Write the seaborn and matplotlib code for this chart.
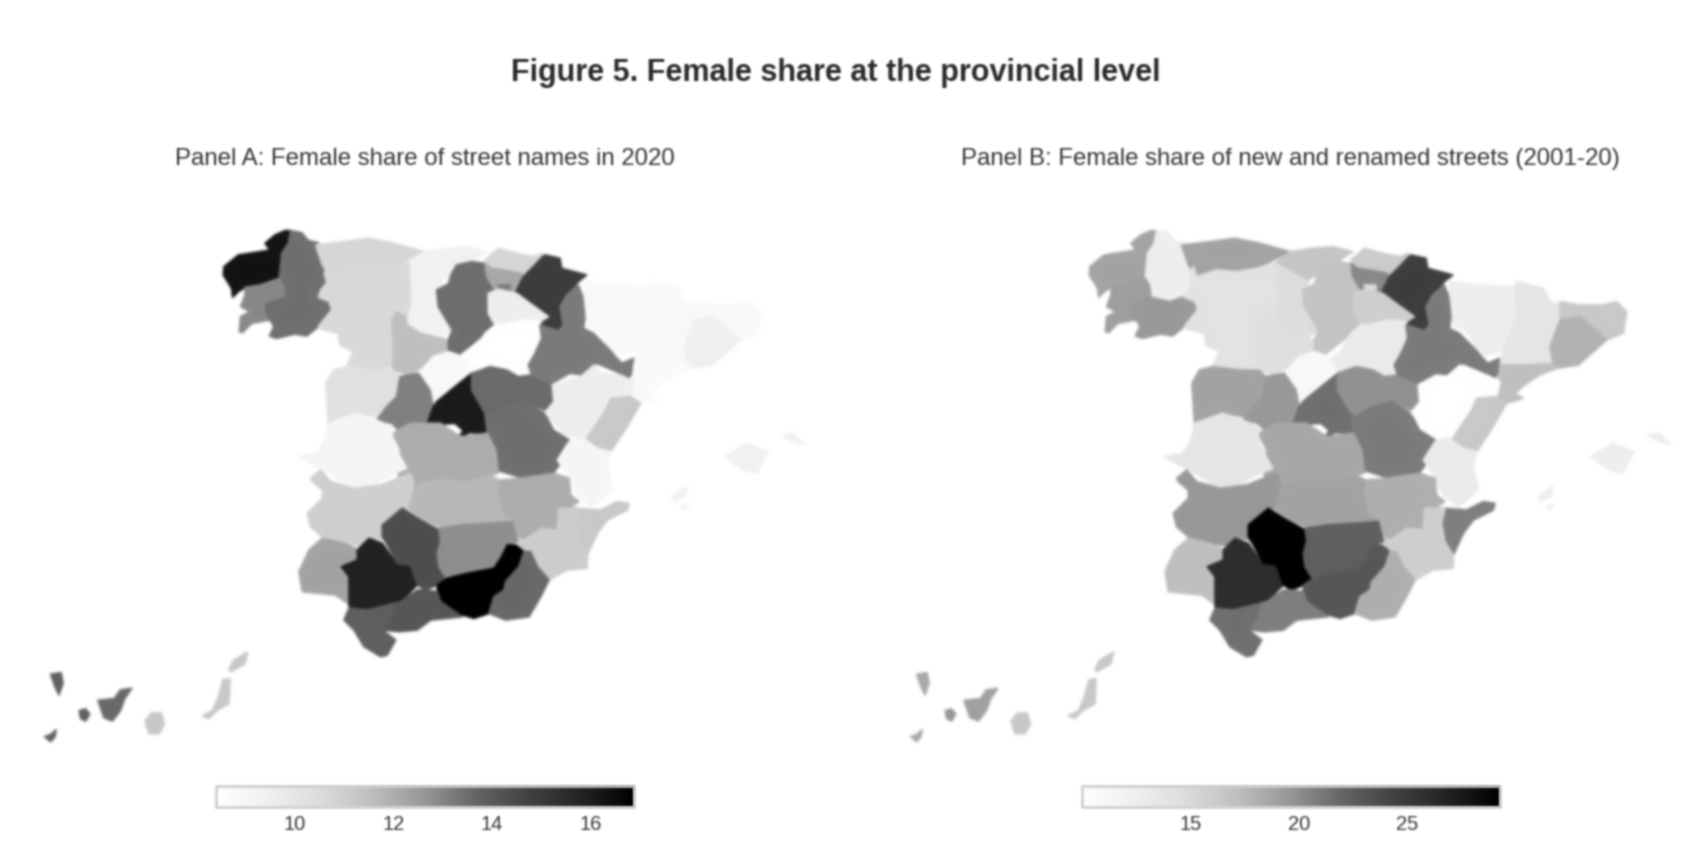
import matplotlib
matplotlib.use("Agg")
import matplotlib.pyplot as plt
from matplotlib.collections import PolyCollection
from matplotlib.colors import Normalize
import numpy as np
import seaborn as sns

sns.set_theme(style="white")
plt.rcParams["font.family"] = ["Liberation Sans", "DejaVu Sans"]

FIGURE_TITLE = "Figure 5. Female share at the provincial level"
PANEL_TITLES = ["Panel A: Female share of street names in 2020",
                "Panel B: Female share of new and renamed streets (2001-20)"]
TICKS_A = [10, 12, 14, 16]
TICKS_B = [15, 20, 25]
RANGE_A = (8.41, 16.88)
RANGE_B = (10.02, 29.25)

PROVINCES = ["Coruna", "Lugo", "Pontevedra", "Ourense", "Asturias", "Leon", "Zamora", "Palencia",
             "Valladolid", "Cantabria", "Burgos", "Bizkaia", "Gipuzkoa", "Alava", "Trevino", "Navarra",
             "Rioja", "Soria", "Segovia", "Salamanca", "Avila", "Madrid", "Guadalajara", "Cuenca",
             "Zaragoza", "Huesca", "Lleida", "Girona", "Barcelona", "Tarragona", "Teruel", "Castellon",
             "Valencia", "Alicante", "Murcia", "Albacete", "CiudadReal", "Toledo", "Caceres", "Badajoz",
             "Huelva", "Sevilla", "Cordoba", "Jaen", "Granada", "Almeria", "Malaga", "Cadiz",
             "Mallorca", "Menorca", "Ibiza", "Formentera",
             "LaPalma", "Hierro", "Gomera", "Tenerife", "GranCanaria", "Fuerteventura", "Lanzarote"]

SHARE_2020 = [16.3, 13.45, 12.94, 13.45, 10.7, 10.6, 10.6, 9.25,
              11.54, 9.25, 13.5, 10.7, 10.7, 12.14, 13.2, 14.93,
              9.55, 8.45, 8.75, 10.2, 13.1, 16.03, 13.55, 13.45,
              13.24, 8.75, 8.75, 8.75, 9.47, 8.7, 9.55, 11.2,
              8.95, 11.2, 11.04, 12.0, 11.75, 12.0, 9.1, 10.95,
              12.26, 15.86, 14.34, 12.8, 16.88, 13.58, 14.08, 13.83,
              9.34, 9.34, 9.34, 9.34,
              13.83, 13.83, 13.83, 13.58, 11.2, 11.2, 11.2]

SHARE_NEW = [18.77, 12.62, 19.06, 19.35, 18.77, 14.06, 14.06, 14.63,
             14.44, 16.56, 16.75, 16.17, 16.17, 20.3, 14.73, 24.63,
             15.79, 12.9, 10.8, 18.77, 19.44, 21.46, 19.83, 20.9,
             20.9, 12.62, 13.67, 16.37, 17.9, 17.1, 10.02, 16.37,
             12.9, 20.7, 15.79, 18.1, 18.77, 18.48, 13.5, 19.44,
             17.1, 26.0, 29.25, 22.3, 22.9, 18.1, 20.7, 21.46,
             12.6, 12.6, 12.6, 12.6,
             18.5, 18.5, 19.44, 19.0, 16.37, 16.37, 16.37]


def shift(points, du, dv):
    return [(u + du, v + dv) for u, v in points]


# Province outlines (map units)
OUTLINES = {
    "Coruna": [(345,62),(362,62),(355,100),(335,130),(328,205),(270,225),(225,232),(205,245),(188,262),(185,235),(160,195),(162,170),(205,135),(270,125),(300,120),(285,100),(315,75)],
    "Lugo": [(362,62),(395,68),(415,92),(445,98),(438,125),(460,155),(472,170),(462,190),(470,215),(450,235),(440,262),(400,275),(345,262),(340,225),(328,205),(335,130),(355,100)],
    "Pontevedra": [(328,205),(340,225),(345,262),(290,280),(300,330),(245,340),(218,368),(208,365),(212,320),(240,305),(212,290),(225,255),(225,232),(270,225)],
    "Ourense": [(345,262),(400,275),(440,262),(478,275),(485,300),(460,325),(445,350),(410,378),(375,372),(320,385),(298,378),(312,350),(300,330),(285,300),(290,280)],
    "Asturias": [(437,105),(522,95),(597,85),(672,100),(762,125),(712,150),(662,175),(602,185),(542,180),(482,200),(457,165)],
    "Leon": [(482,200),(542,180),(602,185),(662,175),(722,155),(722,180),(727,270),(712,345),(660,340),(560,340),(480,340),(460,330),(485,300),(478,275),(445,262),(470,215),(462,190),(472,170)],
    "Zamora": [(460,330),(480,340),(560,340),(660,340),(670,400),(668,470),(610,480),(530,470),(550,425),(510,405),(505,370),(455,358),(445,350)],
    "Palencia": [(722,155),(817,210),(807,290),(847,360),(812,385),(752,370),(712,345),(727,270),(722,180)],
    "Valladolid": [(665,330),(680,305),(705,320),(712,345),(752,370),(812,385),(835,390),(835,425),(790,440),(745,480),(715,495),(668,480),(670,400)],
    "Cantabria": [(762,125),(830,115),(890,110),(950,125),(905,155),(860,165),(840,195),(817,210),(722,155)],
    "Burgos": [(860,165),(905,155),(945,160),(950,200),(975,240),(955,260),(955,310),(975,345),(945,370),(910,400),(865,435),(835,420),(835,390),(847,360),(805,290),(800,240),(835,222),(845,190)],
    "Bizkaia": [(945,150),(985,115),(1040,130),(1055,190),(1000,180),(965,175)],
    "Gipuzkoa": [(1040,130),(1090,140),(1118,130),(1095,165),(1060,200),(1055,190)],
    "Alava": [(945,160),(965,175),(1000,180),(1055,190),(1055,215),(1040,250),(1000,235),(975,240),(950,200)],
    "Trevino": [(985,225),(1020,225),(1020,240),(990,240)],
    "Navarra": [(1125,135),(1170,145),(1175,175),(1250,195),(1225,215),(1195,250),(1170,290),(1180,345),(1165,362),(1110,345),(1135,320),(1080,280),(1035,250),(1060,200),(1095,165),(1118,140)],
    "Rioja": [(955,250),(985,238),(1040,250),(1080,280),(1135,320),(1110,335),(1060,330),(1000,345),(975,345),(955,310)],
    "Soria": [(975,345),(1000,345),(1060,330),(1110,335),(1115,385),(1095,430),(1075,465),(1085,495),(1045,500),(1010,480),(960,470),(905,490),(880,450),(910,430),(945,370)],
    "Segovia": [(835,425),(865,435),(880,450),(905,490),(855,530),(800,575),(780,540),(745,490),(790,440)],
    "Salamanca": [(468,520),(490,480),(530,470),(610,480),(668,480),(690,500),(680,560),(650,610),(620,620),(560,610),(475,640)],
    "Avila": [(690,500),(715,495),(745,490),(780,540),(790,590),(770,640),(690,665),(665,640),(620,630),(650,590),(680,560)],
    "Madrid": [(905,490),(905,540),(945,610),(952,670),(895,668),(875,690),(855,695),(880,662),(855,640),(770,645),(790,590),(800,575),(855,530)],
    "Guadalajara": [(905,490),(960,470),(1010,480),(1045,500),(1085,495),(1145,520),(1150,570),(1125,600),(1070,575),(1010,590),(960,620),(945,610),(905,540)],
    "Cuenca": [(945,610),(960,620),(1010,590),(1070,575),(1125,610),(1150,660),(1198,690),(1185,740),(1150,790),(1060,805),(980,780),(975,720),(952,670)],
    "Zaragoza": [(1190,255),(1225,225),(1250,290),(1240,355),(1270,370),(1320,420),(1355,460),(1390,445),(1400,475),(1375,505),(1340,485),(1280,460),(1240,495),(1200,490),(1145,520),(1085,495),(1075,465),(1095,430),(1115,385),(1110,345),(1165,362),(1180,345),(1170,290)],
    "Huesca": shift([(330,95),(420,105),(525,110),(530,200),(490,300),(430,320),(375,240),(340,225),(330,130)], 912, 120),
    "Lleida": shift([(530,95),(610,115),(630,155),(660,165),(660,210),(630,290),(640,340),(560,345),(480,345),(490,300),(530,200),(525,110)], 912, 120),
    "Girona": shift([(660,155),(720,165),(790,165),(830,155),(860,185),(850,250),(800,270),(750,225),(720,200),(660,210)], 912, 120),
    "Barcelona": shift([(660,210),(720,200),(750,225),(800,270),(715,345),(650,355),(640,340),(630,290)], 912, 120),
    "Tarragona": shift([(480,345),(560,345),(640,340),(650,355),(600,375),(560,400),(525,430),(550,445),(500,460),(470,440),(475,390)], 912, 120),
    "Teruel": shift([(235,405),(320,380),(360,345),(380,370),(440,375),(480,395),(470,440),(410,450),(395,480),(340,570),(320,565),(270,550),(215,490),(240,460)], 912, 120),
    "Castellon": shift([(410,445),(470,440),(500,460),(450,545),(410,605),(370,595),(335,570),(395,480)], 912, 120),
    "Valencia": shift([(320,565),(335,570),(370,595),(410,605),(400,650),(415,720),(355,770),(310,735),(275,665),(250,630),(285,575)], 912, 120),
    "Alicante": [(1227,895),(1292,900),(1342,875),(1377,880),(1372,900),(1312,930),(1282,970),(1252,1035),(1227,995),(1217,940)],
    "Murcia": shift([(910,110),(950,110),(975,115),(965,160),(975,215),(1000,255),(1000,295),(940,300),(885,330),(850,290),(830,245),(795,235),(790,200),(860,170),(905,175)], 252, 780),
    "Albacete": shift([(735,30),(800,25),(900,10),(945,25),(950,75),(975,95),(950,110),(910,110),(905,175),(860,170),(810,205),(780,195),(775,155),(745,130),(730,70)], 252, 780),
    "CiudadReal": [(712,840),(752,810),(852,805),(952,790),(987,810),(982,850),(997,910),(1027,935),(952,940),(872,945),(807,950),(762,930),(712,895),(682,905)],
    "Toledo": [(667,670),(722,640),(812,640),(872,680),(952,670),(977,720),(985,790),(952,795),(890,810),(812,805),(752,815),(712,840),(682,830),(692,720)],
    "Caceres": [(475,640),(560,610),(620,630),(665,650),(670,700),(685,730),(710,775),(650,800),(600,830),(540,830),(480,790),(440,770),(385,740),(440,730),(465,690)],
    "Badajoz": shift([(170,25),(200,0),(230,35),(300,55),(380,45),(430,25),(470,10),(480,40),(460,115),(430,125),(385,165),(395,210),(360,205),(340,230),(270,220),(210,205),(170,170),(160,130),(205,85),(205,60),(175,35)], 252, 780),
    "Huelva": shift([(205,205),(270,220),(315,240),(310,270),(265,290),(285,320),(280,400),(245,375),(145,365),(135,305),(165,240)], 252, 780),
    "Sevilla": shift([(310,240),(345,205),(385,220),(420,270),(440,285),(470,285),(490,345),(440,395),(340,420),(285,410),(285,320),(262,290),(310,270)], 252, 780),
    "Cordoba": shift([(385,165),(445,115),(500,150),(555,180),(560,215),(550,250),(555,290),(580,325),(550,345),(515,360),(490,345),(470,285),(430,280),(400,225),(385,200)], 252, 780),
    "Jaen": shift([(555,175),(620,165),(700,160),(775,155),(790,215),(755,225),(740,265),(720,295),(640,310),(580,330),(555,290),(550,250),(560,215)], 252, 780),
    "Granada": shift([(760,225),(785,225),(810,245),(795,290),(755,335),(750,360),(720,380),(705,430),(660,445),(610,430),(560,395),(550,365),(550,345),(580,325),(640,310),(720,295),(740,265)], 252, 780),
    "Almeria": shift([(810,245),(830,245),(850,290),(885,330),(860,380),(825,440),(755,450),(705,430),(720,380),(750,360),(755,335),(795,290)], 252, 780),
    "Malaga": shift([(490,360),(515,360),(550,365),(560,395),(610,430),(625,440),(530,450),(490,480),(435,485),(385,480),(410,440),(420,400),(440,395)], 252, 780),
    "Cadiz": shift([(285,415),(340,420),(420,400),(410,440),(385,480),(425,510),(400,555),(380,560),(330,530),(300,480),(270,450)], 252, 780),
    "Mallorca": shift([(525,560),(590,520),(655,545),(620,610),(580,600)], 1140, 180),
    "Menorca": shift([(695,495),(730,490),(765,525),(720,510)], 1140, 180),
    "Ibiza": shift([(365,680),(410,650),(405,680),(375,695)], 1140, 180),
    "Formentera": shift([(390,710),(415,705),(400,720)], 1140, 180),
    "LaPalma": [(-358,1393),(-327,1388),(-321,1419),(-333,1455),(-345,1430)],
    "Hierro": [(-376,1580),(-358,1574),(-342,1559),(-345,1580),(-358,1595)],
    "Gomera": [(-272,1502),(-253,1497),(-241,1512),(-253,1533),(-268,1526)],
    "Tenerife": [(-216,1471),(-167,1466),(-149,1440),(-115,1435),(-136,1466),(-149,1502),(-173,1533),(-198,1523)],
    "GranCanaria": [(-75,1533),(-56,1509),(-26,1509),(-17,1543),(-32,1571),(-63,1571)],
    "Fuerteventura": [(159,1409),(180,1406),(177,1481),(140,1502),(116,1526),(97,1517),(128,1502),(147,1455)],
    "Lanzarote": [(190,1352),(224,1331),(233,1326),(224,1362),(183,1385),(177,1378)],
}

cmap = sns.blend_palette(["#ffffff", "#f0f0f0", "#dcdcdc", "#bebebe", "#969696",
                          "#646464", "#414141", "#232323", "#000000"], as_cmap=True)

W, H = 1706, 858
fig = plt.figure(figsize=(W / 100, H / 100), dpi=100, facecolor="white")


def soften(image, dpi, sigma=1.0, pad=4):
    """Gaussian softening of one artist's rendering (the reference is a soft scan)."""
    img = np.pad(image, [(pad, pad), (pad, pad), (0, 0)]).astype(float)
    alpha = img[..., 3:4]
    img = np.concatenate([img[..., :3] * alpha, alpha], axis=2)
    xs = np.arange(-pad, pad + 1)
    kernel = np.exp(-xs ** 2 / (2 * sigma ** 2))
    kernel /= kernel.sum()
    for axis in (0, 1):
        img = np.apply_along_axis(lambda r: np.convolve(r, kernel, mode="same"), axis, img)
    a = img[..., 3:4]
    rgb = np.where(a > 1e-4, img[..., :3] / np.maximum(a, 1e-4), 1.0)
    return np.clip(np.concatenate([rgb, a], axis=2), 0, 1), -pad, -pad


def box(x0, y0, x1, y1):
    return [x0 / W, 1 - y1 / H, (x1 - x0) / W, (y1 - y0) / H]


t = fig.text(836 / W, 1 - 73 / H, FIGURE_TITLE, ha="center", va="center",
             fontsize=22, fontweight="bold", color="#2a2a2a")
t.set_agg_filter(soften)

panels = [(0, SHARE_2020, RANGE_A, TICKS_A, 425),
          (866, SHARE_NEW, RANGE_B, TICKS_B, 1290)]
for (dx, values, vrange, ticks, title_x), title in zip(panels, PANEL_TITLES):
    ax = fig.add_axes(box(dx, 190, dx + 840, 770))
    ax.set_xlim(-510, 2010)
    ax.set_ylim(1680, -60)
    ax.axis("off")
    norm = Normalize(*vrange)
    coll = PolyCollection([OUTLINES[p] for p in PROVINCES], array=values, cmap=cmap, norm=norm,
                          edgecolors="face", linewidths=1.2, joinstyle="round")
    coll.set_agg_filter(soften)
    ax.add_collection(coll)
    t = fig.text(title_x / W, 1 - 159 / H, title, ha="center", va="center",
                 fontsize=17.3, color="#333333")
    t.set_agg_filter(soften)
    cax = fig.add_axes(box(dx + 216, 786, dx + 634, 807))
    cb = fig.colorbar(coll, cax=cax, orientation="horizontal", ticks=ticks)
    cb.outline.set_edgecolor("#cccccc")
    cb.outline.set_linewidth(1.8)
    cb.outline.set_agg_filter(soften)
    cb.solids.set_agg_filter(soften)
    cb.ax.tick_params(length=0, labelsize=14.5, labelcolor="#333333", pad=5.5)
    for lab in cb.ax.get_xticklabels():
        lab.set_agg_filter(soften)

fig.savefig("out.png", dpi=100, facecolor="white")
